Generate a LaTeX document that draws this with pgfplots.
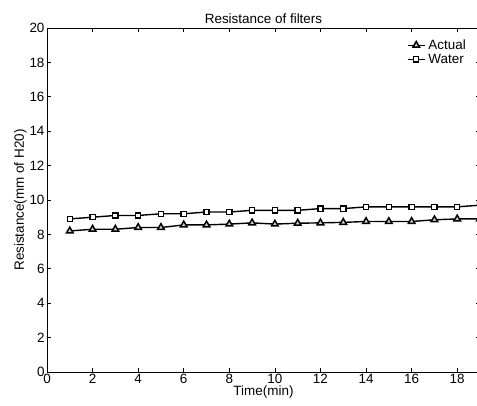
\documentclass[border=0pt]{standalone}
\usepackage{pgfplots}
\pgfplotsset{compat=1.18}
\usepackage{fontspec}
\setmainfont{Liberation Sans}
\begin{document}
\begin{tikzpicture}
\begin{axis}[
  scale only axis,
  width=433bp, height=344bp,
  xmin=0, xmax=19, ymin=0, ymax=20,
  xtick={0,2,...,18}, ytick={0,2,...,20},
  tick align=inside,
  major tick length=4bp,
  xtick pos=both, ytick pos=both,
  axis line style={line width=0.8bp},
  tick style={line width=0.6bp, black},
  /pgf/number format/assume math mode=true,
  tick label style={font=\fontsize{13.5}{15}\selectfont},
  label style={font=\fontsize{13.5}{15}\selectfont},
  title style={font=\fontsize{13.5}{15}\selectfont, yshift=-5bp},
  title={Resistance of filters},
  xlabel={Time(min)},
  ylabel={Resistance(mm of H20)},
  xlabel style={yshift=4.5bp},
  ylabel style={yshift=-4bp},
  xticklabel style={yshift=1.5bp},
  yticklabel style={xshift=1bp},
  legend style={draw=none, fill=none, at={(1,1)}, anchor=north east, xshift=-8bp, yshift=-9bp, font=\fontsize{13.5}{13.5}\selectfont, row sep=2bp, nodes={inner ysep=0.5bp, inner xsep=3bp}},
  legend image post style={xshift=-2bp},
  legend cell align=left,
  clip=false,
]
\addplot[black, line width=1.4bp, mark=triangle*, mark size=3.8bp, mark options={fill=gray!40, draw=black, line width=1.5bp}]
coordinates {(1,8.2)(2,8.3)(3,8.3)(4,8.4)(5,8.4)(6,8.55)(7,8.55)(8,8.6)(9,8.67)(10,8.6)(11,8.65)(12,8.67)(13,8.7)(14,8.75)(15,8.75)(16,8.75)(17,8.85)(18,8.9)(19,8.9)};
\addlegendentry{Actual}
\addplot[black, line width=1.4bp, mark=square*, mark size=2.6bp, mark options={fill=white, draw=black, line width=1.3bp}]
coordinates {(1,8.9)(2,9.0)(3,9.1)(4,9.1)(5,9.2)(6,9.2)(7,9.3)(8,9.3)(9,9.4)(10,9.4)(11,9.4)(12,9.5)(13,9.5)(14,9.6)(15,9.6)(16,9.6)(17,9.6)(18,9.6)(19,9.7)};
\addlegendentry{Water}
\end{axis}
\pgfresetboundingbox
\path[use as bounding box] (-47bp,-34bp) rectangle (430bp,372bp);
\end{tikzpicture}
\end{document}
